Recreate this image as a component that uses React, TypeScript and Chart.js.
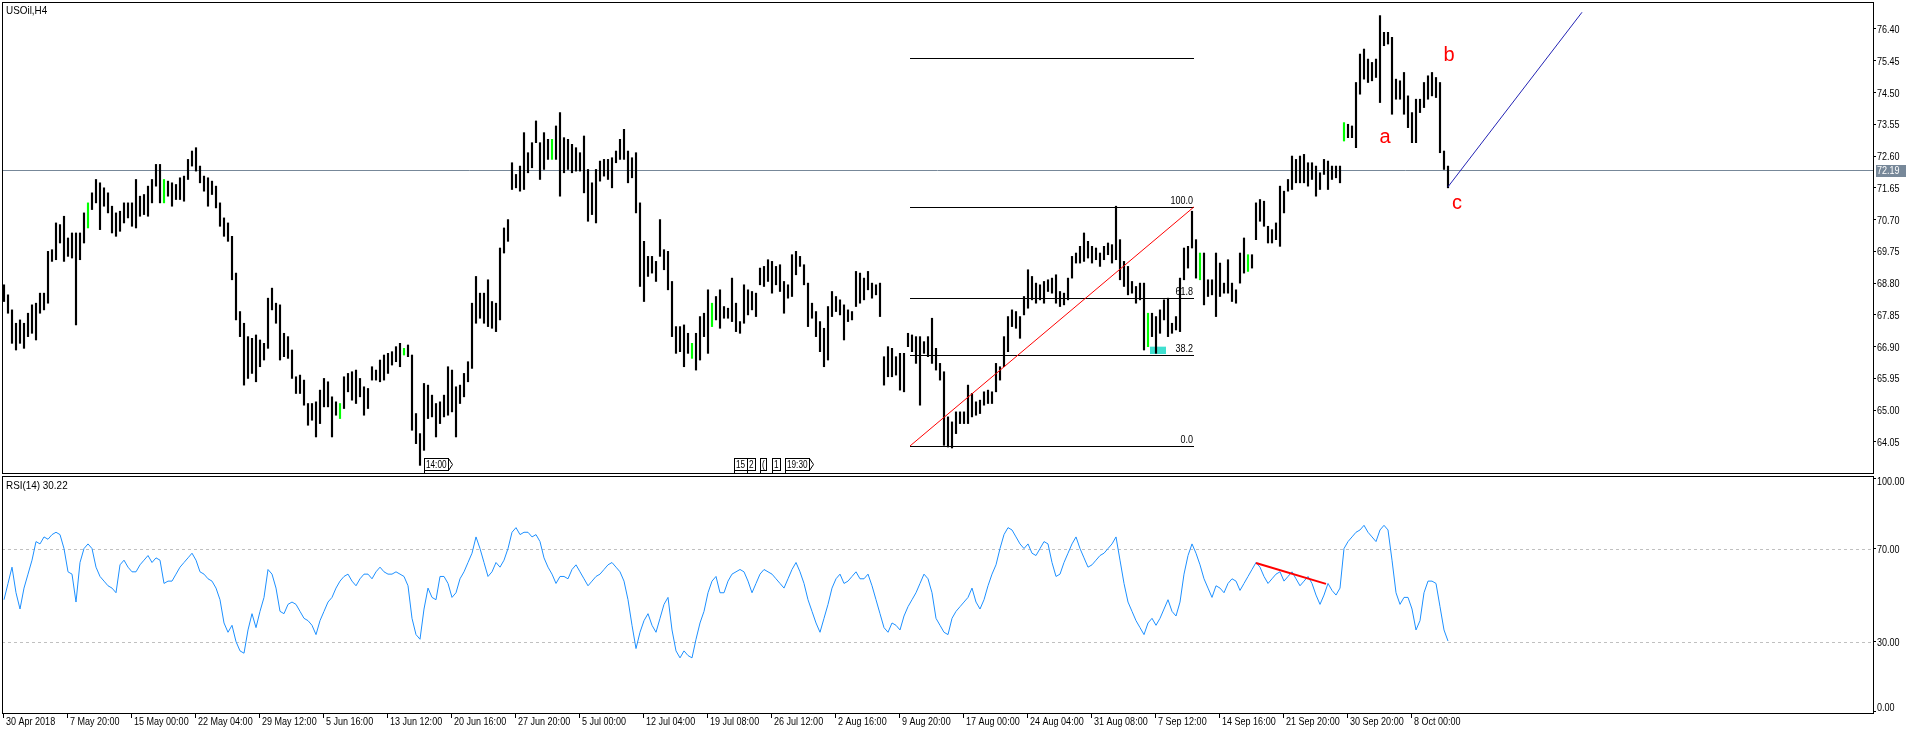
import React, { useEffect, useRef } from "react";
import { Chart, registerables } from "chart.js";

Chart.register(...registerables);

const FONT = "'Liberation Sans', Arial, sans-serif";
const SQUEEZE = 0.82;
const TITLE_SQUEEZE = 0.9;

const SYMBOL_TITLE = "USOil,H4";
const RSI_TITLE = "RSI(14) 30.22";

// One entry per drawn bar (two H4 candles each), left to right
const HIGHS = [
  68.75, 68.45, 68.0, 67.6, 67.7, 67.6, 67.9, 68.15, 68.2, 68.5, 68.5, 69.75, 69.8, 70.6, 70.55, 70.8, 70.15, 70.3, 70.3, 70.3,
  70.9, 71.2, 71.5, 71.9, 71.8, 71.65, 71.5, 71.1, 70.9, 70.95, 71.2, 71.2, 71.2, 71.9, 71.4, 71.45, 71.7, 71.9, 72.35, 72.35,
  71.9, 71.85, 71.8, 71.75, 71.95, 72.0, 72.5, 72.75, 72.85, 72.3, 72.0, 71.95, 71.85, 71.7, 71.2, 70.75, 70.6, 70.2, 69.1, 67.95,
  67.6, 67.2, 67.15, 67.25, 67.1, 67.0, 68.35, 68.65, 68.2, 68.15, 67.3, 67.2, 66.8, 66.0, 66.05, 65.9, 65.2, 65.2, 65.25, 65.6,
  65.95, 65.85, 65.4, 65.25, 65.2, 66.0, 66.1, 66.15, 66.2, 65.95, 65.7, 65.65, 66.3, 66.2, 66.5, 66.65, 66.7, 66.75, 66.9, 67.0,
  66.85, 66.95, 66.65, 64.9, 64.3, 65.8, 65.75, 65.45, 65.2, 65.25, 65.45, 66.3, 66.2, 65.7, 65.75, 66.1, 66.45, 68.2, 69.0, 68.5,
  68.5, 68.9, 68.25, 68.2, 69.85, 70.45, 70.7, 72.4, 72.05, 72.3, 73.3, 72.7, 73.0, 73.65, 73.0, 73.3, 73.1, 73.1, 73.5, 73.9,
  73.15, 73.1, 72.95, 72.85, 72.7, 73.2, 72.2, 71.8, 72.2, 72.45, 72.5, 72.5, 72.55, 72.75, 73.1, 73.4, 72.75, 72.55, 72.7, 71.2,
  70.05, 69.6, 69.6, 69.45, 70.7, 69.8, 69.75, 68.85, 67.5, 67.5, 67.55, 67.3, 67.0, 67.3, 67.8, 67.9, 68.6, 68.2, 68.4, 68.6,
  68.1, 68.05, 68.95, 68.2, 67.65, 68.75, 68.6, 68.55, 68.5, 69.25, 69.3, 69.5, 69.45, 69.3, 69.35, 68.85, 68.75, 69.65, 69.75, 69.6,
  69.35, 68.8, 68.2, 67.95, 67.65, 67.45, 68.1, 68.55, 68.4, 68.3, 68.15, 68.0, 67.95, 69.15, 69.1, 68.95, 69.15, 68.8, 68.75, 68.8,
  66.6, 66.9, 66.85, 66.6, 66.7, 66.7, 67.3, 67.25, 67.2, 67.2, 67.05, 67.2, 67.75, 66.85, 66.4, 66.15, 64.8, 64.65, 64.95, 64.95,
  64.95, 65.75, 65.5, 65.25, 65.3, 65.55, 65.6, 65.55, 66.4, 66.3, 67.2, 67.8, 68.0, 67.95, 67.8, 68.4, 69.2, 69.0, 68.8, 68.75,
  68.85, 68.9, 68.95, 69.05, 68.55, 68.5, 68.95, 69.6, 69.7, 69.9, 70.3, 70.05, 69.9, 69.85, 69.7, 69.9, 70.0, 69.95, 71.1, 70.1,
  69.45, 69.3, 68.85, 68.7, 68.8, 68.8, 67.9, 67.9, 67.8, 68.0, 68.3, 68.35, 67.6, 67.8, 68.95, 69.85, 69.9, 70.95, 70.1, 69.7,
  69.7, 68.9, 68.9, 69.7, 69.4, 68.8, 69.5, 68.8, 68.6, 69.7, 70.15, 69.65, 69.65, 71.2, 71.3, 71.25, 70.5, 70.4, 70.6, 71.7,
  71.55, 71.9, 72.6, 72.5, 72.6, 72.65, 72.4, 72.4, 72.3, 72.1, 72.5, 72.45, 72.3, 72.3, 72.3, 73.6, 73.55, 73.5, 74.8, 75.65,
  75.8, 75.5, 75.4, 75.5, 76.8, 76.3, 76.3, 76.15, 74.9, 74.85, 75.1, 74.4, 73.9, 74.3, 74.3, 74.8, 75.0, 75.1, 74.95, 74.8,
  72.75, 72.3
];

const LOWS = [
  68.25, 67.9, 67.0, 66.8, 67.0, 66.85, 67.2, 67.3, 67.1, 67.9, 68.0, 68.2, 69.45, 69.5, 70.0, 69.45, 69.6, 69.55, 67.55, 69.5,
  70.0, 70.45, 71.0, 71.2, 70.4, 71.1, 70.9, 70.3, 70.2, 70.35, 70.6, 70.75, 70.5, 70.45, 70.8, 70.85, 70.8, 71.2, 71.7, 71.2,
  71.2, 71.4, 71.1, 71.3, 71.3, 71.25, 71.9, 72.3, 72.15, 71.8, 71.55, 71.1, 71.45, 71.05, 70.5, 70.2, 70.05, 68.9, 67.7, 67.2,
  65.75, 65.95, 66.1, 65.85, 66.3, 66.5, 66.85, 68.0, 67.6, 66.5, 66.6, 66.55, 65.95, 65.5, 65.5, 65.15, 64.55, 64.7, 64.2, 64.6,
  65.1, 65.1, 64.2, 64.85, 64.75, 65.05, 65.55, 65.3, 65.2, 65.4, 64.85, 65.05, 65.9, 65.9, 65.85, 65.9, 66.1, 66.35, 66.45, 66.3,
  66.65, 66.6, 64.4, 64.0, 63.35, 63.8, 64.75, 64.8, 64.2, 64.6, 64.8, 64.85, 64.95, 64.2, 65.2, 65.4, 65.85, 66.25, 67.6, 67.75,
  67.6, 67.5, 67.45, 67.35, 67.7, 69.7, 70.05, 71.6, 71.65, 71.55, 71.6, 72.1, 72.25, 73.0, 71.9, 72.2, 72.5, 72.5, 72.5, 71.4,
  72.1, 72.2, 72.1, 72.15, 72.15, 71.5, 70.65, 70.85, 70.6, 71.85, 72.0, 71.9, 71.65, 72.4, 72.5, 72.5, 71.8, 71.95, 70.9, 68.7,
  68.25, 69.0, 69.1, 68.85, 69.6, 69.2, 68.6, 67.2, 66.7, 66.75, 66.3, 66.7, 66.55, 66.2, 66.5, 67.2, 66.7, 67.5, 67.7, 67.45,
  67.75, 67.75, 67.65, 67.35, 67.3, 67.6, 67.85, 68.0, 67.8, 68.75, 68.7, 68.85, 68.5, 68.75, 68.55, 67.9, 68.35, 68.4, 69.05, 69.3,
  68.75, 67.5, 67.75, 67.2, 66.75, 66.3, 66.5, 67.8, 67.95, 67.85, 67.1, 67.65, 67.7, 68.1, 68.2, 68.3, 68.6, 68.35, 68.45, 67.8,
  65.75, 66.0, 66.0, 66.05, 65.6, 65.55, 66.9, 66.75, 66.4, 65.15, 66.7, 66.6, 66.4, 66.2, 65.9, 63.95, 63.9, 63.87, 64.3, 64.6,
  64.6, 64.6, 64.8, 64.85, 64.9, 65.15, 65.2, 65.2, 65.55, 65.9, 66.3, 66.75, 67.5, 67.45, 67.15, 67.85, 68.05, 68.3, 68.2, 68.3,
  68.2, 68.55, 68.5, 68.2, 68.1, 68.15, 68.3, 68.95, 69.4, 69.4, 69.45, 69.55, 69.4, 69.5, 69.3, 69.5, 69.65, 69.4, 69.5, 68.9,
  68.7, 68.45, 68.5, 68.2, 68.3, 66.8, 66.9, 67.2, 66.7, 67.3, 67.7, 67.2, 67.3, 67.4, 67.35, 68.9, 69.25, 69.85, 68.95, 68.9,
  68.15, 68.4, 68.45, 67.8, 68.4, 68.5, 68.5, 68.25, 68.2, 68.8, 69.1, 69.15, 69.25, 70.1, 70.65, 70.5, 70.0, 70.0, 70.1, 69.9,
  70.9, 71.55, 71.6, 71.8, 71.8, 71.8, 71.7, 71.9, 71.4, 71.6, 72.05, 71.6, 71.9, 71.95, 71.8, 73.05, 73.15, 73.15, 72.85, 74.45,
  74.9, 74.8, 74.85, 74.95, 74.2, 75.9, 75.95, 73.85, 74.3, 74.3, 73.85, 73.45, 73.0, 73.0, 73.9, 74.05, 74.3, 74.4, 74.35, 72.7,
  72.2, 71.65
];

const GREEN_BARS = [21, 40, 84, 100, 137, 172, 177, 286, 299, 311, 335];

const RSI_VALUES = [
  48, 55, 62, 51, 44, 53, 59, 65, 73, 72, 75, 74, 76, 77, 76, 70, 60, 59, 47, 64,
  70, 72, 70, 62, 58, 56, 54, 53, 51, 63, 65, 62, 60, 60, 63, 65, 67, 64, 66, 65,
  55, 56, 56, 59, 62, 64, 66, 68, 65, 60, 59, 57, 56, 53, 48, 38, 34, 37, 30, 26,
  25, 35, 42, 36, 43, 49, 61, 59, 53, 43, 42, 46, 47, 46, 43, 40, 39, 37, 33, 39,
  43, 47, 49, 53, 56, 58, 59, 56, 54, 57, 59, 59, 57, 60, 62, 60, 59, 59, 60, 59,
  58, 54, 40, 33, 31, 44, 53, 49, 48, 58, 58, 55, 49, 51, 57, 60, 64, 68, 75, 70,
  64, 58, 60, 64, 62, 65, 70, 77, 79, 76, 77, 77, 75, 76, 73, 66, 62, 59, 55, 58,
  58, 57, 61, 63, 60, 57, 54, 56, 58, 59, 61, 63, 64, 62, 60, 56, 48, 37, 27, 34,
  39, 42, 37, 34, 40, 46, 49, 35, 26, 23, 26, 24, 23, 31, 38, 43, 51, 56, 58, 51,
  51, 56, 59, 60, 61, 60, 56, 51, 55, 59, 61, 60, 59, 57, 55, 53, 57, 61, 64, 60,
  55, 48, 43, 38, 34, 40, 46, 53, 57, 59, 55, 56, 58, 60, 57, 57, 59, 54, 48, 42,
  36, 34, 38, 37, 35, 41, 45, 48, 51, 55, 59, 57, 51, 40, 37, 34, 33, 40, 43, 45,
  47, 49, 53, 47, 44, 48, 54, 59, 63, 70, 76, 79, 78, 75, 72, 70, 72, 68, 67, 70,
  73, 72, 64, 58, 59, 64, 68, 72, 75, 70, 66, 62, 63, 65, 67, 68, 70, 72, 75, 65,
  55, 47, 43, 39, 36, 33, 38, 40, 37, 40, 44, 48, 43, 41, 47, 59, 67, 72, 68, 63,
  57, 53, 49, 54, 53, 51, 55, 57, 56, 52, 55, 58, 61, 64, 62, 58, 55, 57, 59, 60,
  56, 58, 60, 57, 54, 56, 58, 55, 50, 46, 50, 55, 52, 50, 53, 70, 73, 75, 77, 78,
  80, 77, 75, 73, 78, 80, 78, 65, 51, 46, 49, 49, 44, 35, 39, 51, 56, 56, 55, 45,
  35, 30.22
];

const TIME_LABELS = [
  "30 Apr 2018", "7 May 20:00", "15 May 00:00", "22 May 04:00", "29 May 12:00", "5 Jun 16:00",
  "13 Jun 12:00", "20 Jun 16:00", "27 Jun 20:00", "5 Jul 00:00", "12 Jul 04:00", "19 Jul 08:00",
  "26 Jul 12:00", "2 Aug 16:00", "9 Aug 20:00", "17 Aug 00:00", "24 Aug 04:00", "31 Aug 08:00",
  "7 Sep 12:00", "14 Sep 16:00", "21 Sep 20:00", "30 Sep 20:00", "8 Oct 00:00"
];
const TIME_TICK_BARS = [
  0, 32, 64, 96, 128, 160, 192, 224, 256, 288, 320, 352,
  384, 416, 448, 480, 512, 544, 576, 608, 640, 672, 704
];

const PRICE_TICKS = [64.05, 65.0, 65.95, 66.9, 67.85, 68.8, 69.75, 70.7, 71.65, 72.6, 73.55, 74.5, 75.45, 76.4];
const RSI_TICKS = [0, 30, 70, 100];
const RSI_LEVELS = [30, 70];
const CURRENT_PRICE = 72.19;

const FIB_LOW = 63.93;
const FIB_HIGH = 71.08;
const FIB_LEVELS = [0, 38.2, 61.8, 100];
const FIB_FROM_BAR = 453.5;
const FIB_TO_BAR = 595.5;
const UPPER_LEVEL = 75.52;
const PROJECTION = [
  { bar: 722.5, price: 71.68 },
  { bar: 789.5, price: 76.9 },
];
const ZONE = { fromBar: 573.5, toBar: 581.5, low: 66.68, high: 66.9 };
const WAVE_LABELS = [
  { text: "a", bar: 691, price: 73.17 },
  { text: "b", bar: 723, price: 75.62 },
  { text: "c", bar: 727, price: 71.17 },
];
const RSI_TREND = [
  { bar: 626.5, value: 63.8 },
  { bar: 661.5, value: 54.8 },
];
const EVENT_FLAGS = [
  { text: "14:00", bar: 210.5, arrow: true },
  { text: "15", bar: 365.5 },
  { text: "2", bar: 372 },
  { text: "(", bar: 378.5 },
  { text: "1", bar: 384.5 },
  { text: "19:30", bar: 391, arrow: true },
];

const X_MIN = -0.5;
const X_MAX = 935;

function drawText(ctx, text, x, y, align = "left", color = "#000", size = 11, squeeze = SQUEEZE) {
  ctx.save();
  ctx.font = `${size}px ${FONT}`;
  ctx.fillStyle = color;
  ctx.textBaseline = "middle";
  ctx.textAlign = align;
  ctx.translate(x, y);
  ctx.scale(squeeze, 1);
  ctx.fillText(text, 0, 0);
  ctx.restore();
}

function textWidth(ctx, text, size) {
  ctx.save();
  ctx.font = `${size}px ${FONT}`;
  const w = ctx.measureText(text).width * SQUEEZE;
  ctx.restore();
  return w;
}

function drawFlag(ctx, x, bottom, text, arrow) {
  const w = Math.ceil(textWidth(ctx, text, 10)) + 3;
  const left = Math.round(x) + 0.5;
  const top = bottom - 15 + 0.5;
  ctx.save();
  ctx.fillStyle = "#ffffff";
  ctx.fillRect(left, top, w, 12);
  ctx.strokeStyle = "#000";
  ctx.lineWidth = 1;
  ctx.strokeRect(left, top, w, 12);
  ctx.beginPath();
  ctx.moveTo(left, top + 12);
  ctx.lineTo(left, bottom);
  ctx.stroke();
  if (arrow) {
    ctx.beginPath();
    ctx.moveTo(left + w, top);
    ctx.lineTo(left + w + 4, top + 6);
    ctx.lineTo(left + w, top + 12);
    ctx.stroke();
  }
  ctx.restore();
  drawText(ctx, text, left + 1.5, top + 6.5, "left", "#000", 10);
}

const mainDecor = {
  id: "mainDecor",
  beforeDatasetsDraw(chart) {
    const { ctx, chartArea: a, scales } = chart;
    const x = scales.x;
    const y = scales.y;
    ctx.save();
    ctx.fillStyle = "#40E0D0";
    const zx1 = x.getPixelForValue(ZONE.fromBar);
    const zx2 = x.getPixelForValue(ZONE.toBar);
    const zy1 = y.getPixelForValue(ZONE.high);
    const zy2 = y.getPixelForValue(ZONE.low);
    ctx.fillRect(zx1, zy1, zx2 - zx1, zy2 - zy1);
    const cy = Math.round(y.getPixelForValue(CURRENT_PRICE)) + 0.5;
    ctx.strokeStyle = "#778899";
    ctx.lineWidth = 1;
    ctx.beginPath();
    ctx.moveTo(a.left, cy);
    ctx.lineTo(a.right, cy);
    ctx.stroke();
    ctx.restore();
  },
  afterDatasetsDraw(chart) {
    const { ctx, chartArea: a, scales } = chart;
    const x = scales.x;
    const y = scales.y;
    ctx.save();
    ctx.beginPath();
    ctx.rect(a.left, a.top, a.right - a.left, a.bottom - a.top);
    ctx.clip();
    const fx1 = Math.round(x.getPixelForValue(FIB_FROM_BAR));
    const fx2 = Math.round(x.getPixelForValue(FIB_TO_BAR));
    ctx.strokeStyle = "#000";
    ctx.lineWidth = 1;
    FIB_LEVELS.forEach((lvl) => {
      const p = FIB_LOW + ((FIB_HIGH - FIB_LOW) * lvl) / 100;
      const py = Math.round(y.getPixelForValue(p)) + 0.5;
      ctx.beginPath();
      ctx.moveTo(fx1, py);
      ctx.lineTo(fx2, py);
      ctx.stroke();
      drawText(ctx, lvl.toFixed(1), fx2 - 1, py - 7, "right");
    });
    const uy = Math.round(y.getPixelForValue(UPPER_LEVEL)) + 0.5;
    ctx.beginPath();
    ctx.moveTo(fx1, uy);
    ctx.lineTo(fx2, uy);
    ctx.stroke();
    ctx.strokeStyle = "#ff0000";
    ctx.beginPath();
    ctx.moveTo(x.getPixelForValue(FIB_FROM_BAR), y.getPixelForValue(FIB_LOW));
    ctx.lineTo(x.getPixelForValue(FIB_TO_BAR), y.getPixelForValue(FIB_HIGH));
    ctx.stroke();
    ctx.strokeStyle = "#2323b4";
    ctx.beginPath();
    ctx.moveTo(x.getPixelForValue(PROJECTION[0].bar), y.getPixelForValue(PROJECTION[0].price));
    ctx.lineTo(x.getPixelForValue(PROJECTION[1].bar), y.getPixelForValue(PROJECTION[1].price));
    ctx.stroke();
    ctx.fillStyle = "#ff0000";
    ctx.font = `20px ${FONT}`;
    ctx.textAlign = "center";
    ctx.textBaseline = "middle";
    WAVE_LABELS.forEach((w) => {
      ctx.fillText(w.text, x.getPixelForValue(w.bar), y.getPixelForValue(w.price));
    });
    ctx.restore();

    EVENT_FLAGS.forEach((f) => drawFlag(ctx, x.getPixelForValue(f.bar), a.bottom, f.text, f.arrow));
  },
  afterDraw(chart) {
    const { ctx, chartArea: a, scales } = chart;
    const y = scales.y;
    ctx.save();
    ctx.strokeStyle = "#000";
    ctx.lineWidth = 1;
    ctx.strokeRect(a.left + 0.5, a.top + 0.5, a.right - a.left, a.bottom - a.top);
    ctx.restore();
    drawText(ctx, SYMBOL_TITLE, a.left + 4, a.top + 9, "left", "#000", 11, TITLE_SQUEEZE);
    PRICE_TICKS.forEach((v) => {
      drawText(ctx, v.toFixed(2), a.right + 4, Math.round(y.getPixelForValue(v)) + 0.5);
    });
    const cy = Math.round(y.getPixelForValue(CURRENT_PRICE));
    ctx.save();
    ctx.fillStyle = "#778899";
    ctx.fillRect(a.right + 3, cy - 5, 30, 12);
    ctx.restore();
    drawText(ctx, CURRENT_PRICE.toFixed(2), a.right + 4, cy + 1, "left", "#ffffff");
  },
};

const rsiDecor = {
  id: "rsiDecor",
  beforeDatasetsDraw(chart) {
    const { ctx, chartArea: a, scales } = chart;
    const y = scales.y;
    ctx.save();
    ctx.strokeStyle = "#c0c0c0";
    ctx.lineWidth = 1;
    ctx.setLineDash([3, 3]);
    RSI_LEVELS.forEach((lv) => {
      const py = Math.round(y.getPixelForValue(lv)) + 0.5;
      ctx.beginPath();
      ctx.moveTo(a.left, py);
      ctx.lineTo(a.right, py);
      ctx.stroke();
    });
    ctx.restore();
  },
  afterDatasetsDraw(chart) {
    const { ctx, scales } = chart;
    const x = scales.x;
    const y = scales.y;
    ctx.save();
    ctx.strokeStyle = "#ff0000";
    ctx.lineWidth = 2;
    ctx.beginPath();
    ctx.moveTo(x.getPixelForValue(RSI_TREND[0].bar), y.getPixelForValue(RSI_TREND[0].value));
    ctx.lineTo(x.getPixelForValue(RSI_TREND[1].bar), y.getPixelForValue(RSI_TREND[1].value));
    ctx.stroke();
    ctx.restore();
  },
  afterDraw(chart) {
    const { ctx, chartArea: a, scales } = chart;
    const x = scales.x;
    const y = scales.y;
    ctx.save();
    ctx.strokeStyle = "#000";
    ctx.lineWidth = 1;
    ctx.strokeRect(a.left + 0.5, a.top + 0.5, a.right - a.left, a.bottom - a.top);
    ctx.restore();
    drawText(ctx, RSI_TITLE, a.left + 4, a.top + 10, "left", "#000", 11, TITLE_SQUEEZE);
    RSI_TICKS.forEach((v) => {
      const py = Math.min(Math.max(Math.round(y.getPixelForValue(v)) + 0.5, a.top + 6), a.bottom - 5);
      drawText(ctx, v.toFixed(2), a.right + 4, py);
    });
    TIME_TICK_BARS.forEach((b, k) => {
      drawText(ctx, TIME_LABELS[k], Math.round(x.getPixelForValue(b)) + 3, a.bottom + 9);
    });
  },
};

export default function App() {
  const mainRef = useRef(null);
  const rsiRef = useRef(null);

  useEffect(() => {
    const barData = HIGHS.map((h, j) => ({ x: j * 2 + 0.5, y: [LOWS[j], h] }));
    const barColors = HIGHS.map((_, j) => (GREEN_BARS.includes(j) ? "#00ff00" : "#000000"));

    const main = new Chart(mainRef.current, {
      type: "bar",
      data: {
        datasets: [
          {
            data: barData,
            backgroundColor: barColors,
            borderWidth: 0,
            barThickness: 1.5,
            grouped: false,
          },
        ],
      },
      options: {
        animation: false,
        responsive: false,
        maintainAspectRatio: false,
        events: [],
        layout: { padding: { left: 2, top: 2, right: 0, bottom: 2 } },
        plugins: { legend: { display: false }, tooltip: { enabled: false } },
        scales: {
          x: { type: "linear", min: X_MIN, max: X_MAX, display: false, offset: false },
          y: {
            position: "right",
            min: 63.122,
            max: 77.207,
            afterFit(s) {
              s.width = 43;
            },
            afterBuildTicks(s) {
              s.ticks = PRICE_TICKS.map((v) => ({ value: v }));
            },
            ticks: { display: false },
            grid: { drawOnChartArea: false, drawTicks: true, tickLength: 3, color: "#000" },
            border: { display: false },
          },
        },
      },
      plugins: [mainDecor],
    });

    const rsiData = RSI_VALUES.map((v, j) => ({ x: j * 2 + 0.5, y: v }));
    const rsi = new Chart(rsiRef.current, {
      type: "line",
      data: {
        datasets: [
          {
            data: rsiData,
            borderColor: "#1e90ff",
            borderWidth: 1,
            pointRadius: 0,
            tension: 0,
            fill: false,
          },
        ],
      },
      options: {
        animation: false,
        responsive: false,
        maintainAspectRatio: false,
        events: [],
        layout: { padding: { left: 2, top: 1, right: 0, bottom: 0 } },
        plugins: { legend: { display: false }, tooltip: { enabled: false } },
        scales: {
          x: {
            type: "linear",
            min: X_MIN,
            max: X_MAX,
            offset: false,
            position: "bottom",
            afterFit(s) {
              s.height = 21;
            },
            afterBuildTicks(s) {
              s.ticks = TIME_TICK_BARS.map((v) => ({ value: v }));
            },
            ticks: { display: false },
            grid: { drawOnChartArea: false, drawTicks: true, tickLength: 5, color: "#000" },
            border: { display: false },
          },
          y: {
            position: "right",
            min: -0.71,
            max: 101.2,
            afterFit(s) {
              s.width = 43;
            },
            afterBuildTicks(s) {
              s.ticks = RSI_TICKS.map((v) => ({ value: v }));
            },
            ticks: { display: false },
            grid: { drawOnChartArea: false, drawTicks: true, tickLength: 3, color: "#000" },
            border: { display: false },
          },
        },
      },
      plugins: [rsiDecor],
    });

    return () => {
      main.destroy();
      rsi.destroy();
    };
  }, []);

  return (
    <div style={{ position: "absolute", left: 0, top: 0, width: 1916, height: 734, background: "#ffffff" }}>
      <canvas
        ref={mainRef}
        width={1916}
        height={475}
        style={{ position: "absolute", left: 0, top: 0, width: 1916, height: 475, display: "block" }}
      />
      <canvas
        ref={rsiRef}
        width={1916}
        height={259}
        style={{ position: "absolute", left: 0, top: 475, width: 1916, height: 259, display: "block" }}
      />
    </div>
  );
}
